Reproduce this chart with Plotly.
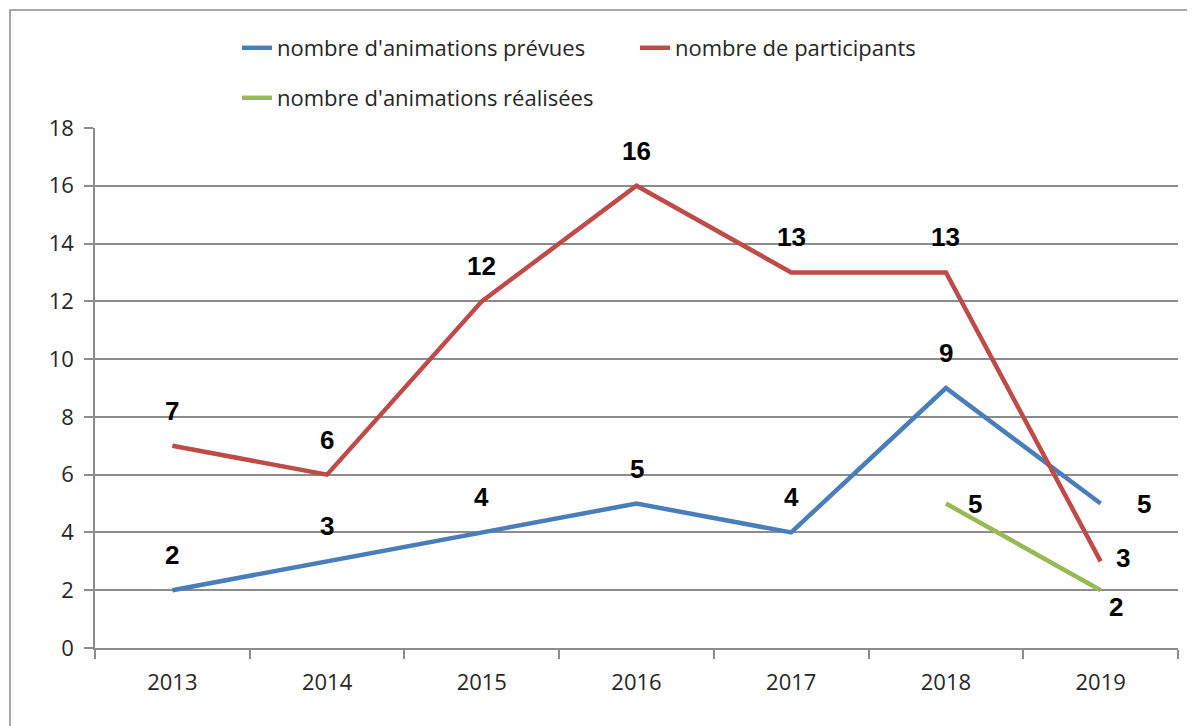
import plotly.graph_objects as go

years = ["2013", "2014", "2015", "2016", "2017", "2018", "2019"]
prevues = [2, 3, 4, 5, 4, 9, 5]
participants = [7, 6, 12, 16, 13, 13, 3]
realisees = [None, None, None, None, None, 5, 2]

names = ["nombre d'animations prévues", "nombre de participants", "nombre d'animations réalisées"]
colors = ["#4A7EBB", "#BE4B48", "#98B954"]

# label offsets (px) per point: (xshift, yshift)
off_prevues = [(0, 35)] * 6 + [(43, 0)]
off_particip = [(0, 35)] * 6 + [(22, 3)]
off_realis = [None] * 5 + [(29, 0), (15, -17)]

W, H = 1195, 726
PAGE = 8  # browser body margin
# plot-area edges in screen pixels
L, R, T, B = 95, 1178, 128, 648
pw, ph = R - L, B - T

fig = go.Figure()
series = [prevues, participants, realisees]
legends = ["legend", "legend", "legend2"]
for vals, nm, col, lg in zip(series, names, colors, legends):
    fig.add_trace(go.Scatter(x=years, y=vals, mode="lines", name=nm,
                             line=dict(color=col, width=4.5), legend=lg,
                             connectgaps=False))

ann = []
for vals, offs in zip(series, [off_prevues, off_particip, off_realis]):
    for i, (v, o) in enumerate(zip(vals, offs)):
        if v is None:
            continue
        ann.append(dict(x=i, y=v, xref="x", yref="y", text="<b>" + str(v) + "</b>",
                        showarrow=False, xshift=o[0], yshift=o[1],
                        font=dict(family="Liberation Sans", size=26, color="#000000")))


def px2x(px):
    return (px - L) / pw


def py2y(py):
    return (B - py) / ph


tickfont = dict(family="Open Sans", size=22, color="#262626")
legfont = dict(family="Open Sans", size=22, color="#262626")

fig.update_layout(
    width=W, height=H,
    margin=dict(l=L - PAGE, r=W - (R - PAGE), t=T - PAGE, b=H - (B - PAGE), pad=0),
    paper_bgcolor="white", plot_bgcolor="white",
    font=dict(family="Open Sans", size=20, color="#262626"),
    showlegend=True,
    legend=dict(orientation="h", x=px2x(237), y=py2y(48), xanchor="left", yanchor="middle",
                entrywidth=353, entrywidthmode="pixels",
                font=legfont, bgcolor="rgba(0,0,0,0)", itemwidth=30),
    legend2=dict(orientation="h", x=px2x(237), y=py2y(98), xanchor="left", yanchor="middle",
                 font=legfont, bgcolor="rgba(0,0,0,0)", itemwidth=30),
    xaxis=dict(type="category", range=[-0.5, 6.5], tickson="boundaries",
               ticks="outside", ticklen=9, tickcolor="#8C8C8C", tickwidth=1.5,
               showline=True, linecolor="#8C8C8C", linewidth=1.5,
               showgrid=False, zeroline=False, ticklabelstandoff=14,
               tickfont=tickfont),
    yaxis=dict(range=[0, 18], dtick=2, tick0=0,
               ticks="outside", ticklen=9, tickcolor="#8C8C8C", tickwidth=1.5,
               showline=True, linecolor="#8C8C8C", linewidth=1.5,
               showgrid=True, gridcolor="#8C8C8C", gridwidth=1.5,
               zeroline=False, ticklabelstandoff=6,
               tickfont=tickfont),
    annotations=ann,
    shapes=[dict(type="rect", xref="paper", yref="paper",
                 x0=px2x(10), x1=px2x(1230), y0=py2y(760), y1=py2y(10),
                 line=dict(color="#8C8C8C", width=1.5), layer="below")],
)

fig.write_html("out.html")
